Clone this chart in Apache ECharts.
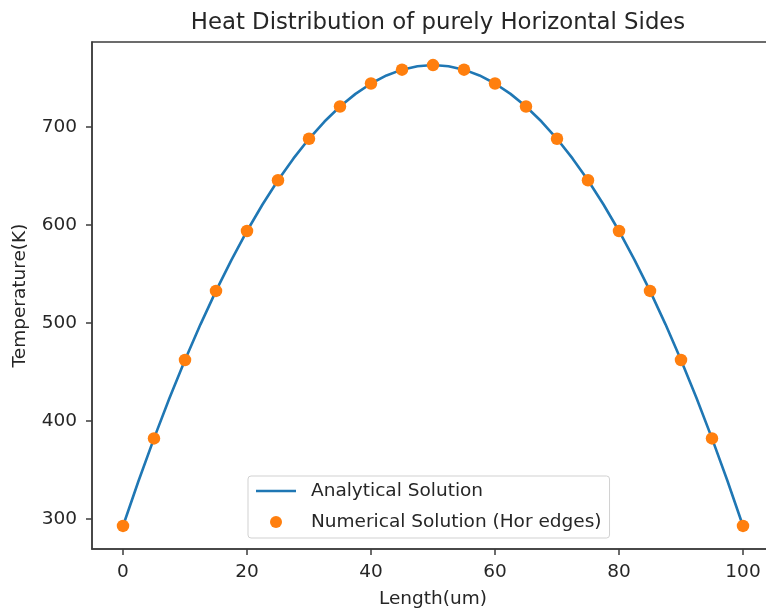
<!DOCTYPE html>
<html>
<head>
<meta charset="utf-8">
<script src="https://cdn.jsdelivr.net/npm/echarts@6/dist/echarts.min.js"></script>
<style>
  html, body { margin: 0; padding: 0; background: #fff; }
  #chart { width: 766px; height: 610px; }
</style>
</head>
<body>
<div id="chart"></div>
<script>
// Tick positions on both axes
const xTickValues = [0, 20, 40, 60, 80, 100];
const yTickValues = [300, 400, 500, 600, 700];

// Analytical temperature profile along the length (um -> K)
const analyticX = [0, 2.5, 5, 7.5, 10, 12.5, 15, 17.5, 20, 22.5, 25, 27.5, 30, 32.5, 35, 37.5, 40, 42.5, 45, 47.5, 50,
                   52.5, 55, 57.5, 60, 62.5, 65, 67.5, 70, 72.5, 75, 77.5, 80, 82.5, 85, 87.5, 90, 92.5, 95, 97.5, 100];
const analyticT = [293, 338.8, 382.3, 423.4, 462.2, 498.6, 532.7, 564.4, 593.8, 620.8, 645.5, 667.8, 687.8, 705.4, 720.7, 733.6, 744.2, 752.4, 758.3, 761.8, 763,
                   761.8, 758.3, 752.4, 744.2, 733.6, 720.7, 705.4, 687.8, 667.8, 645.5, 620.8, 593.8, 564.4, 532.7, 498.6, 462.2, 423.4, 382.3, 338.8, 293];

// Numerical solution sampled at the horizontal edges
const numericX = [0, 5, 10, 15, 20, 25, 30, 35, 40, 45, 50, 55, 60, 65, 70, 75, 80, 85, 90, 95, 100];
const numericT = [293, 382.3, 462.2, 532.7, 593.8, 645.5, 687.8, 720.7, 744.2, 758.3, 763,
                  758.3, 744.2, 720.7, 687.8, 645.5, 593.8, 532.7, 462.2, 382.3, 293];

const FONT = 'DejaVu Sans';
const TEXT = '#262626';
const SPINE = '#3c3c3c';

const chart = echarts.init(document.getElementById('chart'), null, { renderer: 'canvas' });

chart.setOption({
  animation: false,
  backgroundColor: '#ffffff',
  title: {
    text: 'Heat Distribution of purely Horizontal Sides',
    left: 433,
    textAlign: 'center',
    top: 7,
    textStyle: { fontFamily: FONT, fontSize: 22.8, fontWeight: 'normal', color: TEXT }
  },
  grid: {
    left: 92, top: 42, width: 682, height: 507,
    outerBoundsMode: 'none',
    containLabel: false,
    show: true, borderColor: SPINE, borderWidth: 1.5, backgroundColor: 'transparent'
  },
  legend: {
    orient: 'vertical',
    left: 248, top: 476,
    padding: [5, 8, 6, 8],
    itemWidth: 40, itemHeight: 12, itemGap: 11,
    backgroundColor: 'rgba(255,255,255,0.8)',
    borderColor: 'rgba(204,204,204,0.9)', borderWidth: 1, borderRadius: 3,
    textStyle: { fontFamily: FONT, fontSize: 18.5, color: TEXT, lineHeight: 20, padding: [0, 0, 0, 10] },
    data: [
      { name: 'Analytical Solution', icon: 'path://M0,0H40V2.6H0Z' },
      { name: 'Numerical Solution (Hor edges)', icon: 'circle' }
    ]
  },
  xAxis: {
    type: 'value',
    min: -5, max: 105,
    name: 'Length(um)',
    nameLocation: 'middle',
    nameGap: 41,
    nameTextStyle: { fontFamily: FONT, fontSize: 18.5, color: TEXT },
    axisLine: { show: true, onZero: false, lineStyle: { color: SPINE, width: 1.5 } },
    axisTick: { show: true, length: 6, customValues: xTickValues, lineStyle: { color: SPINE, width: 1.5 } },
    axisLabel: { customValues: xTickValues, margin: 14, fontFamily: FONT, fontSize: 18.5, color: TEXT },
    splitLine: { show: false }
  },
  yAxis: {
    type: 'value',
    min: 269.5, max: 786.5,
    name: 'Temperature(K)',
    nameLocation: 'middle',
    nameRotate: 90,
    nameGap: 62,
    nameTextStyle: { fontFamily: FONT, fontSize: 18.5, color: TEXT },
    axisLine: { show: true, onZero: false, lineStyle: { color: SPINE, width: 1.5 } },
    axisTick: { show: true, length: 6, customValues: yTickValues, lineStyle: { color: SPINE, width: 1.5 } },
    axisLabel: { customValues: yTickValues, margin: 15, fontFamily: FONT, fontSize: 18.5, color: TEXT },
    splitLine: { show: false }
  },
  series: [
    {
      name: 'Analytical Solution',
      type: 'line',
      data: analyticX.map((x, i) => [x, analyticT[i]]),
      symbol: 'none',
      smooth: false,
      lineStyle: { color: '#1f77b4', width: 2.6 },
      itemStyle: { color: '#1f77b4' },
      z: 2
    },
    {
      name: 'Numerical Solution (Hor edges)',
      type: 'scatter',
      data: numericX.map((x, i) => [x, numericT[i]]),
      symbol: 'circle',
      symbolSize: 12.5,
      itemStyle: { color: '#ff7f0e', opacity: 1 },
      z: 3
    }
  ]
});
</script>
</body>
</html>
